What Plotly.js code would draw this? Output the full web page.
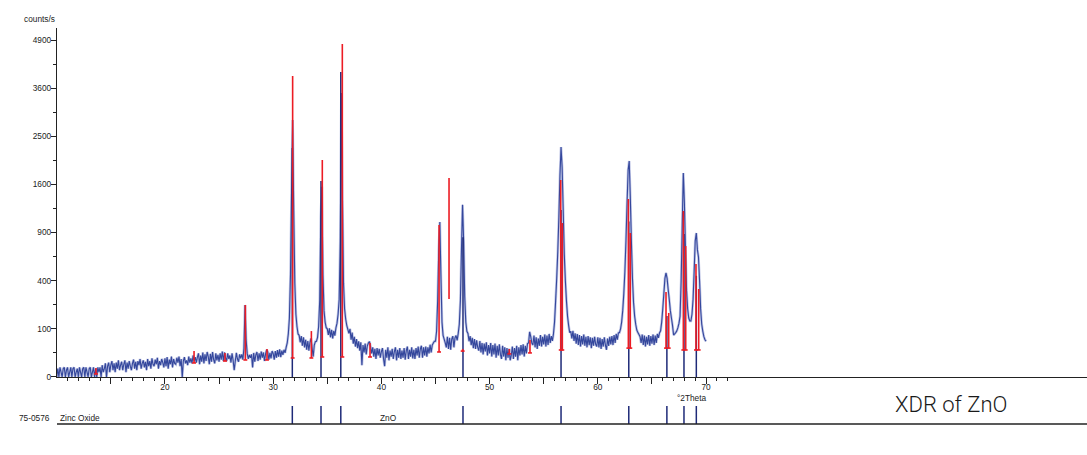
<!DOCTYPE html>
<html><head><meta charset="utf-8">
<script src="https://cdn.plot.ly/plotly-3.0.1.min.js"></script>
<style>html,body{margin:0;padding:0;background:#fff}#chart{width:1087px;height:455px}</style>
</head><body><div id="chart"></div>
<script>
// ---- measured pattern (counts/s), 2theta from 10.0 to 70.0 in 0.1 deg steps ----
const twoThetaStart = 10.0;
const twoThetaStep = 0.1;
const intensity = [
 0,3,0,4,1,0,3,4,0,2,            // 10
 4,0,1,4,0,3,4,0,1,3,            // 11
 0,4,1,0,3,4,0,4,1,0,            // 12
 3,4,0,1,4,0,3,0,4,1,            // 13
 4,0,6,1,3,8,0,5,9,1,            // 14
 6,11,2,8,1,9,3,12,2,6,          // 15
 10,2,7,12,1,9,3,11,5,2,         // 16
 8,13,3,10,2,11,6,14,3,8,        // 17
 12,4,10,2,14,5,11,3,15,7,       // 18
 5,13,7,16,3,11,6,14,9,4,        // 19
 15,5,17,3,13,7,18,4,14,8,       // 20
 7,16,9,18,5,14,0,11,17,8,       // 21
 12,6,18,9,15,8,20,11,17,9,      // 22
 17,24,7,20,10,26,8,22,11,27,    // 23
 18,7,23,10,27,13,8,24,12,21,    // 24
 10,24,13,28,11,26,16,11,24,14,  // 25
 20,9,24,12,2,11,25,14,10,22,    // 26
 15,22,13,35,224,60,24,14,21,16, // 27
 22,4,25,10,21,27,11,24,13,28,   // 28
 16,26,11,23,32,27,13,25,15,29,  // 29
 24,13,29,16,31,18,33,17,30,21,  // 30
 32,25,38,50,80,150,450,1500,2850,1200, // 31
 380,170,110,80,75,52,72,42,68,38,      // 32
 60,32,56,30,52,64,36,18,44,54,         // 33
 55,68,110,250,1100,1560,450,190,130,105, // 34
 100,76,102,68,96,64,92,74,104,125,     // 35
 170,260,800,3480,1400,380,200,145,115,98, // 36
 82,100,60,85,48,70,40,62,36,55,        // 37
 30,52,6,44,26,48,22,42,50,54,          // 38
 40,24,38,18,34,14,36,20,34,16,         // 39
 28,36,14,5,32,16,38,12,30,18,          // 40
 34,14,28,38,12,32,16,36,14,30,         // 41
 16,36,13,30,40,14,32,18,38,15,         // 42
 32,14,36,20,40,16,34,42,16,38,         // 43
 20,40,18,38,24,45,26,44,50,55,         // 44
 55,90,250,700,1037,450,130,75,62,50,   // 45
 38,70,34,66,32,62,72,38,66,74,         // 46
 58,82,120,250,700,1280,800,280,130,90, // 47
 82,55,72,44,66,36,62,34,58,38,         // 48
 30,56,26,50,22,48,28,52,20,44,         // 49
 24,50,18,44,22,48,16,42,20,46,         // 50
 22,14,42,18,38,12,36,16,34,12,         // 51
 20,40,14,36,18,42,12,38,20,44,         // 52
 22,46,18,42,24,48,50,88,70,50,         // 53
 44,74,38,68,34,64,42,76,40,70,         // 54
 46,78,40,74,44,80,50,72,56,80,         // 55
 130,250,420,680,1100,1750,2283,1900,1200,650, // 56
 400,250,160,115,85,90,64,92,56,82,     // 57
 48,80,44,76,40,72,46,78,42,70,         // 58
 38,72,44,68,36,66,42,70,46,40,         // 59
 68,38,66,34,62,40,68,44,32,64,         // 60
 42,70,46,72,44,76,50,80,60,84,         // 61
 85,100,130,190,300,480,800,1300,1850,2013, // 62
 1400,800,420,240,160,120,95,85,78,70,  // 63
 50,78,44,74,40,70,46,76,42,72,         // 64
 48,78,44,74,50,80,66,84,92,130,        // 65
 200,300,420,467,420,330,260,190,150,115, // 66
 76,80,85,92,105,125,160,400,1000,1796, // 67
 1300,700,320,200,150,135,135,170,260,480, // 68
 800,895,700,620,400,200,120,90,70,60,  // 69
 55                                     // 70
];

// ---- peak list (red markers) ----
const peakPos  = [13.63,22.69,25.55,27.43,29.43,31.80,33.53,34.54,36.39,38.95,45.33,46.25,47.51,51.82,53.73,56.57,56.72,62.82,63.00,66.30,66.55,67.90,68.12,69.07,69.32];
const peakTop  = [3.5,29,25,224,34,3909,91,2032,4785,50,997,1709,34,34,59,1675,1023,1367,895,312,177,1189,740,551,334];
const peakBase = [0.4,8.5,11,12.5,12.5,15.6,15.6,17.3,17.3,17.3,27,262,29,23,25,31.5,31.5,36,36,36,36,31.5,31.5,31.5,31.5];
const peakFoot = [1,1,1,1,1,1,1,1,1,1,1,0,1,1,1,1,1,1,1,1,1,1,1,1,1];

// ---- reference pattern 75-0576 Zinc Oxide (navy sticks) ----
const refPos    = [31.77,34.42,36.25,47.54,56.60,62.86,66.38,67.96,69.10];
const refHeight = [2263,1657,4014,843,1204,1044,161,883,442];

// ---- axis labels ----
const yTickLabels = [0,100,400,900,1600,2500,3600,4900];
const xTickLabels = [20,30,40,50,60,70];

const sq = v => Math.sqrt(v);
const xs = intensity.map((_, i) => +(twoThetaStart + i * twoThetaStep).toFixed(2));
const ys = intensity.map(sq);

// red sticks
const rx = [], ry = [];
peakPos.forEach((p, i) => {
  rx.push(p, p, null); ry.push(sq(peakBase[i]), sq(peakTop[i]), null);
  if (peakFoot[i]) { rx.push(p - 0.18, p + 0.18, null); ry.push(sq(peakBase[i]), sq(peakBase[i]), null); }
});
// navy sticks (main)
const nx = [], ny = [];
refPos.forEach((p, i) => { nx.push(p, p, null); ny.push(0, sq(refHeight[i]), null); });
// navy sticks (reference panel)
const lx = [], ly = [];
refPos.forEach(p => { lx.push(p, p, null); ly.push(0, 1, null); });

const traces = [
  {x: xs, y: ys, type: 'scatter', mode: 'lines', line: {color: 'rgba(140,152,210,0.55)', width: 2.6, simplify: false}, hoverinfo: 'skip'},
  {x: xs, y: ys, type: 'scatter', mode: 'lines', line: {color: '#34479c', width: 1.1, simplify: false}, hoverinfo: 'skip'},
  {x: nx, y: ny, type: 'scatter', mode: 'lines', line: {color: '#1e2a78', width: 1.5}, hoverinfo: 'skip'},
  {x: rx, y: ry, type: 'scatter', mode: 'lines', line: {color: '#ec1c24', width: 1.6}, hoverinfo: 'skip'},
  {x: lx, y: ly, type: 'scatter', mode: 'lines', line: {color: '#1e2a78', width: 1.5}, xaxis: 'x', yaxis: 'y2', hoverinfo: 'skip'}
];

const FONT = 'Liberation Sans, Arial, sans-serif';
const minorX = [];
for (let v = 11; v <= 72; v++) if (v % 5 !== 0) minorX.push(v);
const majorX = [];
for (let v = 15; v <= 70; v += 5) majorX.push(v);

const layout = {
  width: 1087, height: 455,
  margin: {l: 57, r: 0, t: 28, b: 31, pad: 0},
  paper_bgcolor: '#fff', plot_bgcolor: '#fff',
  showlegend: false,
  font: {family: FONT, size: 8.3, color: '#222'},
  xaxis: {
    range: [10.026, 105.2], anchor: 'y',
    showgrid: false, zeroline: false, showline: true, linecolor: '#222', linewidth: 1.2,
    tickmode: 'array', tickvals: majorX,
    ticktext: majorX.map(v => xTickLabels.includes(v) ? String(v) : ''),
    ticks: 'outside', ticklen: 6, tickcolor: '#222', tickwidth: 1,
    ticklabelstandoff: -4,
    tickfont: {family: FONT, size: 8.3, color: '#222'},
    minor: {tickmode: 'array', tickvals: minorX, ticks: 'outside', ticklen: 3, tickcolor: '#222', showgrid: false}
  },
  yaxis: {
    domain: [0.1187, 1], range: [0, 72.5],
    showgrid: false, zeroline: false, showline: true, linecolor: '#222', linewidth: 1.2,
    tickmode: 'array', tickvals: yTickLabels.map(sq), ticktext: yTickLabels.map(String),
    ticks: 'outside', ticklen: 5, tickcolor: '#222', tickwidth: 1,
    ticklabelstandoff: -2,
    tickfont: {family: FONT, size: 8.3, color: '#222'},
    minor: {tickmode: 'array', tickvals: [5,15,25,35,45,55,65], ticks: 'outside', ticklen: 2.5, tickcolor: '#222', showgrid: false}
  },
  yaxis2: {domain: [0, 0.04545], range: [0, 1], visible: false, anchor: 'x'},
  shapes: [
    {type: 'line', xref: 'paper', yref: 'paper', x0: 0, x1: 1, y0: 0, y1: 0, line: {color: '#222', width: 1.3}}
  ],
  annotations: [
    {text: 'counts/s', xref: 'paper', yref: 'paper', x: 0, y: 1.0227, xanchor: 'right', yanchor: 'middle', showarrow: false, font: {family: FONT, size: 8.3, color: '#222'}},
    {text: '°2Theta', xref: 'x', yref: 'paper', x: 70.3, y: 0.066, xanchor: 'right', yanchor: 'middle', showarrow: false, font: {family: FONT, size: 8.3, color: '#222'}},
    {text: '75-0576', xref: 'paper', yref: 'paper', x: -0.0049, y: 0.01515, xanchor: 'right', yanchor: 'middle', showarrow: false, font: {family: FONT, size: 8.3, color: '#222'}},
    {text: 'Zinc Oxide', xref: 'paper', yref: 'paper', x: 0.0005, y: 0.01515, xanchor: 'left', yanchor: 'middle', showarrow: false, font: {family: FONT, size: 8.3, color: '#222'}},
    {text: 'ZnO', xref: 'x', yref: 'paper', x: 40.68, y: 0.01515, xanchor: 'center', yanchor: 'middle', showarrow: false, font: {family: FONT, size: 8.3, color: '#222'}},
    {text: 'XDR of ZnO', xref: 'paper', yref: 'paper', x: 0.8117, y: 0.0505, xanchor: 'left', yanchor: 'middle', showarrow: false, font: {family: 'Roboto, Open Sans, sans-serif', size: 22, weight: 300, color: '#1a1a1a'}}
  ]
};

Plotly.newPlot('chart', traces, layout, {staticPlot: true, displayModeBar: false});
</script>
</body></html>
